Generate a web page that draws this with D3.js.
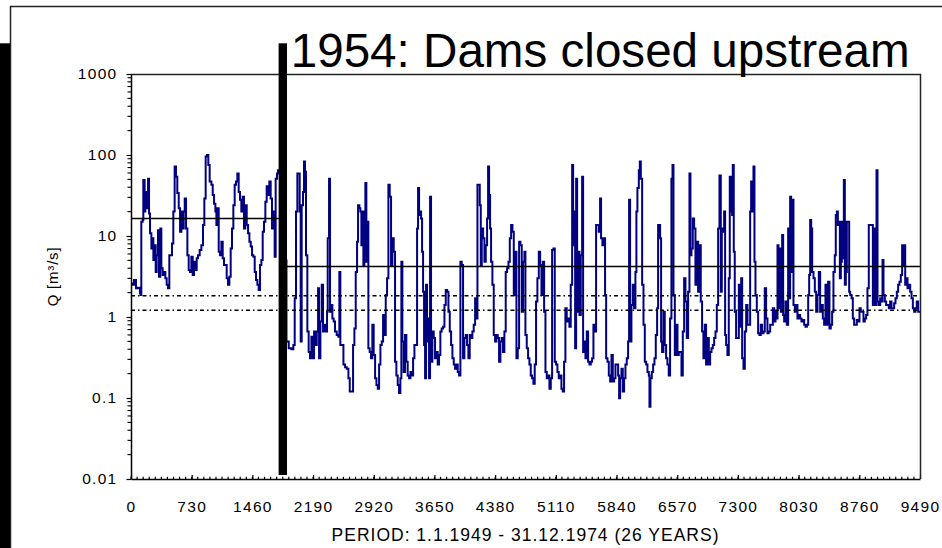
<!DOCTYPE html>
<html>
<head>
<meta charset="utf-8">
<script src="https://cdn.jsdelivr.net/npm/d3@7"></script>
<style>
  html, body { margin: 0; padding: 0; background: #fff; }
  svg { display: block; }
  text { font-family: "Liberation Sans", Arial, sans-serif; fill: #000; }
</style>
</head>
<body>
<svg id="chart" width="942" height="548"></svg>
<script>
// Daily discharge trace, [day since 1.1.1949, Q in m3/s]
const flowBefore1954 = [
  [0,2.6],[12,2.5],[36,2.86],[60,2.26],[84,2.3],[108,1.96],[116,1.87],[124,15],[140,15.8],[148,49],
  [164,20],[172,35],[189,22],[205,51],[217,19],[229,10.8],[245,7.0],[257,9.4],[269,5.05],[285,7.7],
  [297,3.6],[309,5.8],[325,11.8],[337,3.15],[353,12.4],[365,4.0],[381,3.3],[397,3.6],[413,3.0],[429,2.5],
  [445,2.26],[461,5.8],[477,5.8],[493,8.1],[509,20],[525,72],[541,54],[557,34],[574,22],[590,11.3],
  [606,20],[618,12.4],[634,20],[646,29],[662,12.4],[678,5.8],[694,3.8],[710,3.6],[726,5.55],[742,3.3],
  [758,4.8],[774,3.8],[790,5.3],[806,5.8],[826,6.7],[846,7.7],[866,13.7],[882,29],[898,96],[914,100],
  [930,75],[946,47],[967,43],[983,32],[999,25],[1015,20],[1027,13.7],[1039,22],[1055,6.4],[1071,5.8],
  [1087,8.5],[1103,5.3],[1119,4.4],[1135,4.4],[1151,3.0],[1167,2.5],[1183,3.15],[1199,7.0],[1215,12.4],[1231,24],
  [1247,43],[1263,47],[1279,59],[1295,35],[1311,28],[1327,20],[1343,30.5],[1359,12.4],[1375,24],[1392,13.7],
  [1408,10.8],[1424,8.5],[1440,7.4],[1456,5.8],[1472,5.55],[1488,3.6],[1504,2.86],[1520,2.5],[1536,2.15],[1552,4.4],
  [1568,5.05],[1584,11.3],[1600,15],[1616,26.5],[1632,41],[1648,32],[1664,47],[1680,29],[1696,12.4],[1712,20],
  [1728,5.55],[1740,51],[1756,59],[1769,65],[1800,5]
];

const flowAfter1954 = [
  [1870,0.50],[1897,0.41],[1929,0.40],[1953,0.45],[1969,1.70],[1985,20],[2001,59],[2017,59],[2029,20],[2041,0.50],
  [2053,24],[2069,35],[2081,83],[2093,62],[2105,5.8],[2121,0.66],[2137,0.37],[2153,0.31],[2170,0.57],[2186,0.31],
  [2202,0.66],[2218,0.45],[2234,0.66],[2250,2.26],[2262,0.31],[2278,0.88],[2294,2.5],[2310,0.66],[2326,0.80],[2342,0.66],
  [2358,1.16],[2366,9.4],[2382,51],[2394,1.16],[2406,1.41],[2422,0.96],[2438,0.88],[2454,0.66],[2474,0.60],[2494,0.57],
  [2506,3.6],[2518,0.45],[2534,0.45],[2555,0.26],[2575,0.24],[2595,0.23],[2615,0.175],[2631,0.12],[2655,0.12],[2671,0.45],
  [2687,0.72],[2703,3.6],[2719,8.5],[2731,24],[2747,22],[2759,20],[2771,7.7],[2783,20],[2795,4.4],[2807,12.4],
  [2819,45],[2831,4.8],[2843,15],[2855,0.41],[2871,0.37],[2887,0.31],[2903,0.80],[2919,0.34],[2936,0.175],[2952,0.145],
  [2968,0.13],[2984,0.26],[3000,0.45],[3016,0.50],[3032,1.06],[3048,0.60],[3064,1.87],[3080,3.0],[3096,43],[3112,30.5],
  [3128,4.4],[3144,9.4],[3160,6.4],[3176,0.28],[3192,0.19],[3208,0.145],[3224,0.115],[3240,0.175],[3252,4.8],[3264,0.50],
  [3280,0.21],[3296,0.60],[3312,0.28],[3328,0.19],[3345,0.175],[3361,0.21],[3377,0.19],[3393,0.31],[3409,0.45],[3425,0.45],
  [3441,12.4],[3453,39],[3465,18.2],[3477,20],[3489,16.5],[3501,6.4],[3513,2.05],[3525,0.45],[3537,0.175],[3549,2.5],
  [3561,0.96],[3573,0.50],[3585,0.175],[3597,30.5],[3609,0.28],[3625,0.66],[3641,0.55],[3657,0.31],[3673,0.37],[3689,0.26],
  [3705,0.34],[3721,0.66],[3737,0.72],[3754,0.76],[3770,1.41],[3786,2.15],[3802,2.05],[3818,1.16],[3834,0.66],[3850,0.45],
  [3866,0.31],[3882,0.26],[3898,0.23],[3914,0.26],[3930,0.21],[3946,0.19],[3962,4.8],[3978,4.4],[3994,0.31],[4010,0.55],
  [4026,0.60],[4042,0.45],[4058,0.31],[4074,0.60],[4090,0.55],[4106,0.66],[4122,0.80],[4139,1.70],[4155,0.96],[4167,43],
  [4183,43],[4195,24],[4207,4.4],[4219,12.4],[4235,9.4],[4251,4.8],[4267,7.7],[4283,16.5],[4295,72],[4307,32],
  [4319,12.4],[4331,4.8],[4347,2.5],[4363,0.60],[4379,0.50],[4395,0.60],[4411,0.55],[4427,0.28],[4443,0.50],[4459,0.55],
  [4475,0.37],[4491,0.66],[4507,3.6],[4523,4.0],[4540,4.8],[4556,9.4],[4572,13.7],[4588,11.3],[4604,1.87],[4620,6.4],
  [4636,0.31],[4652,0.41],[4668,8.5],[4684,7.7],[4700,1.16],[4716,4.8],[4732,6.4],[4744,0.60],[4760,0.41],[4776,0.31],
  [4792,0.26],[4808,0.19],[4824,0.175],[4840,0.15],[4856,0.26],[4872,1.55],[4888,3.0],[4905,6.4],[4921,4.4],[4937,1.87],
  [4953,4.8],[4969,1.16],[4985,0.21],[5001,0.175],[5017,0.19],[5033,0.13],[5049,0.175],[5065,6.7],[5081,7.0],[5097,0.28],
  [5113,0.26],[5129,0.21],[5145,0.175],[5161,0.19],[5177,0.13],[5193,0.12],[5209,0.28],[5225,1.28],[5241,0.88],[5257,0.96],
  [5273,0.76],[5289,2.5],[5306,75],[5318,7.7],[5330,20],[5342,0.41],[5354,51],[5366,1.16],[5378,6.4],[5394,1.06],
  [5410,5.8],[5426,54],[5438,0.37],[5450,0.50],[5466,0.31],[5482,0.66],[5498,0.28],[5514,0.26],[5530,0.28],[5546,0.31],
  [5562,0.80],[5578,0.66],[5594,13.7],[5610,13.7],[5626,11.3],[5642,29],[5654,9.4],[5670,7.7],[5686,9.4],[5702,1.87],
  [5715,0.31],[5731,0.28],[5747,0.19],[5763,0.16],[5779,0.34],[5795,0.16],[5811,0.175],[5827,0.26],[5843,0.26],[5859,0.19],
  [5871,0.099],[5883,0.175],[5899,0.23],[5915,0.12],[5931,0.175],[5947,0.26],[5963,0.31],[5979,0.50],[5991,28],[6003,0.50],
  [6019,1.41],[6035,2.5],[6051,1.28],[6067,3.6],[6079,20],[6091,39],[6108,65],[6120,83],[6132,51],[6148,2.5],
  [6164,0.80],[6180,0.28],[6196,0.26],[6212,0.21],[6228,0.19],[6236,0.078],[6248,0.175],[6264,0.21],[6280,0.26],[6296,0.31],
  [6312,0.60],[6328,1.28],[6340,13.7],[6352,13.7],[6364,9.4],[6376,0.50],[6388,0.37],[6404,1.16],[6420,0.45],[6436,0.31],
  [6452,0.26],[6468,0.19],[6484,0.96],[6500,51],[6513,75],[6525,1.87],[6541,0.34],[6557,0.80],[6573,0.34],[6589,0.37],
  [6605,0.37],[6621,0.19],[6637,0.66],[6653,3.0],[6669,1.55],[6685,0.55],[6701,2.05],[6717,59],[6729,5.8],[6741,7.0],
  [6757,16.5],[6773,12.4],[6789,2.5],[6805,8.5],[6821,2.05],[6837,7.7],[6853,1.55],[6869,0.66],[6885,0.31],[6901,0.80],
  [6917,0.26],[6934,0.55],[6950,0.26],[6966,0.37],[6982,0.41],[6998,0.45],[7014,0.55],[7030,0.66],[7046,1.41],[7062,12.4],
  [7078,56],[7094,2.05],[7106,12.4],[7118,11.3],[7134,20],[7146,0.60],[7158,0.45],[7174,0.34],[7190,3.0],[7202,54],
  [7214,20],[7230,18.2],[7238,75],[7250,6.4],[7262,1.16],[7278,0.55],[7295,0.55],[7311,2.5],[7327,0.76],[7339,3.0],
  [7351,0.31],[7367,0.23],[7383,0.66],[7399,1.41],[7415,0.80],[7431,0.80],[7447,20],[7459,47],[7471,20],[7487,72],
  [7499,4.8],[7511,1.87],[7527,1.16],[7543,0.63],[7559,0.60],[7575,0.80],[7591,0.63],[7607,0.66],[7623,2.26],[7639,0.96],
  [7655,0.63],[7671,0.66],[7688,0.80],[7704,0.80],[7720,1.28],[7736,0.88],[7752,1.16],[7768,0.96],[7776,7.7],[7788,1.28],
  [7800,7.0],[7816,1.16],[7832,10.3],[7844,1.06],[7856,0.88],[7872,1.55],[7888,0.80],[7904,12.4],[7916,1.70],[7928,30.5],
  [7940,3.6],[7952,28],[7968,1.41],[7984,1.16],[8000,1.41],[8016,0.96],[8032,1.06],[8048,0.96],[8064,0.88],[8080,0.92],
  [8097,0.80],[8113,0.76],[8129,0.80],[8145,1.87],[8157,3.3],[8169,15.8],[8181,12.4],[8193,3.6],[8209,3.0],[8225,2.05],
  [8241,1.16],[8257,1.87],[8273,3.6],[8289,1.16],[8305,1.41],[8321,0.96],[8337,0.80],[8353,2.5],[8369,0.80],[8385,2.73],
  [8401,0.72],[8417,0.80],[8433,1.16],[8449,3.6],[8465,5.8],[8477,18.2],[8490,20],[8502,13.7],[8514,15],[8526,3.0],
  [8538,4.8],[8550,15],[8562,5.3],[8574,49],[8586,2.5],[8598,3.6],[8610,15],[8626,15],[8638,2.05],[8650,1.87],
  [8666,1.70],[8682,0.96],[8698,0.80],[8714,0.80],[8730,0.92],[8746,0.88],[8762,1.28],[8778,1.16],[8794,1.16],[8810,0.88],
  [8826,0.96],[8842,1.06],[8858,2.26],[8874,13.7],[8891,13.7],[8907,13.7],[8923,1.41],[8939,12.4],[8955,1.41],[8967,65],
  [8979,1.55],[8995,1.41],[9011,1.70],[9027,1.55],[9039,5.05],[9051,1.87],[9067,1.55],[9083,1.41],[9099,1.41],[9115,1.28],
  [9131,1.55],[9147,1.28],[9163,1.28],[9179,1.48],[9195,1.70],[9211,2.05],[9227,2.5],[9243,2.73],[9259,3.3],[9275,7.7],
  [9287,4.4],[9299,7.7],[9312,2.5],[9324,3.0],[9340,2.26],[9356,2.5],[9372,2.05],[9388,1.70],[9404,1.28],[9420,1.16],
  [9436,1.28],[9451,1.55],[9468,1.16],[9484,1.16],[9490,1.16]
];

// Mean flows of both periods and two low-flow reference levels
const meanFlowBefore = 16.5;
const meanFlowAfter = 4.2;
const lowFlowLevels = [1.83, 1.21];
const damClosureDay = 1826;
const periodEnd = 9490;

const xTickValues = [0, 730, 1460, 2190, 2920, 3650, 4380, 5110, 5840, 6570, 7300, 8030, 8760, 9490];
const yTickValues = [0.01, 0.1, 1, 10, 100, 1000];
const yTickLabels = ["0.01", "0.1", "1", "10", "100", "1000"];

const titleText = "1954: Dams closed upstream";
const xTitleText = "PERIOD: 1.1.1949 - 31.12.1974 (26 YEARS)";

// ---- layout ----
const plot = { left: 131, right: 920, top: 74, bottom: 479 };
const svg = d3.select("#chart");

const x = d3.scaleLinear().domain([0, periodEnd]).range([plot.left, plot.right]);
const y = d3.scaleLog().domain([0.01, 1000]).range([plot.bottom, plot.top]);

// outer frame
svg.append("path")
  .attr("d", `M10.5,548 L10.5,6.5 L942,6.5`)
  .attr("fill", "none").attr("stroke", "#222").attr("stroke-width", 1.5);

svg.append("clipPath").attr("id", "plotClip")
  .append("rect")
  .attr("x", plot.left).attr("y", plot.top)
  .attr("width", plot.right - plot.left).attr("height", plot.bottom - plot.top);

const g = svg.append("g").attr("clip-path", "url(#plotClip)");

// discharge line
const series = flowBefore1954.concat(flowAfter1954);
const line = d3.line()
  .x(d => x(d[0]))
  .y(d => y(d[1]))
  .curve(d3.curveStepAfter);

g.append("path")
  .datum(series)
  .attr("d", line)
  .attr("fill", "none")
  .attr("stroke", "#000080")
  .attr("stroke-width", 2)
  .attr("stroke-linejoin", "miter");

// mean flow before and after the dam closure
[[0, damClosureDay, meanFlowBefore], [damClosureDay, periodEnd, meanFlowAfter]].forEach(([a, b, q]) => {
  g.append("line")
    .attr("x1", x(a)).attr("x2", x(b))
    .attr("y1", y(q)).attr("y2", y(q))
    .attr("stroke", "#000").attr("stroke-width", 1.5);
});

// low-flow levels, dash-dot
lowFlowLevels.forEach(q => {
  g.append("line")
    .attr("x1", x(0)).attr("x2", x(periodEnd))
    .attr("y1", y(q)).attr("y2", y(q))
    .attr("stroke", "#000").attr("stroke-width", 1.4)
    .attr("stroke-dasharray", "4,3,1.5,3");
});

// ---- axes ----
const tickFont = { size: "15.5px", spacing: "1.3px" };

const xAxis = d3.axisBottom(x)
  .tickValues(xTickValues)
  .tickFormat(d3.format("d"))
  .tickSizeInner(-4)
  .tickSizeOuter(0)
  .tickPadding(22);

const xg = svg.append("g").attr("transform", `translate(0,${plot.bottom})`).call(xAxis);
xg.select(".domain").attr("stroke", "#000").attr("stroke-width", 1.5);
xg.selectAll(".tick line").attr("stroke", "#000").attr("stroke-width", 1.2);
xg.selectAll(".tick text")
  .attr("fill", "#000")
  .style("font-family", "\"Liberation Sans\", Arial, sans-serif")
  .style("font-size", tickFont.size)
  .style("letter-spacing", tickFont.spacing);

// minor x ticks
svg.append("g").selectAll("line")
  .data(d3.range(0, periodEnd, periodEnd / 130))
  .join("line")
  .attr("x1", d => x(d)).attr("x2", d => x(d))
  .attr("y1", plot.bottom).attr("y2", plot.bottom - 2.2)
  .attr("stroke", "#000").attr("stroke-width", 1.2);

const yAxis = d3.axisLeft(y)
  .tickValues(yTickValues)
  .tickFormat((d, i) => yTickLabels[i])
  .tickSizeInner(4.5)
  .tickSizeOuter(0)
  .tickPadding(9);

const yg = svg.append("g").attr("transform", `translate(${plot.left},0)`).call(yAxis);
yg.select(".domain").attr("stroke", "#000").attr("stroke-width", 1.5);
yg.selectAll(".tick line").attr("stroke", "#000").attr("stroke-width", 1.2);
yg.selectAll(".tick text")
  .attr("fill", "#000")
  .style("font-family", "\"Liberation Sans\", Arial, sans-serif")
  .style("font-size", tickFont.size)
  .style("letter-spacing", tickFont.spacing);

// minor y ticks (2..9 in each decade)
const minorY = [];
for (let e = -2; e < 3; e++) for (let m = 2; m <= 9; m++) minorY.push(m * Math.pow(10, e));
svg.append("g").selectAll("line")
  .data(minorY)
  .join("line")
  .attr("x1", plot.left - 3.5).attr("x2", plot.left)
  .attr("y1", d => y(d)).attr("y2", d => y(d))
  .attr("stroke", "#000").attr("stroke-width", 1.1);

// top and right border of the plot area
svg.append("path")
  .attr("d", `M${plot.left},${plot.top + 0.5} L${plot.right + 0.5},${plot.top + 0.5} L${plot.right + 0.5},${plot.bottom}`)
  .attr("fill", "none").attr("stroke", "#222").attr("stroke-width", 1.5);

// axis titles
svg.append("text")
  .attr("x", (plot.left + plot.right) / 2)
  .attr("y", 541)
  .attr("text-anchor", "middle")
  .style("font-size", "17.5px")
  .style("letter-spacing", "1px")
  .text(xTitleText);

svg.append("text")
  .attr("transform", `translate(58,${(plot.top + plot.bottom) / 2}) rotate(-90)`)
  .attr("text-anchor", "middle")
  .style("font-size", "15px")
  .style("letter-spacing", "0.8px")
  .text("Q [m³/s]");

// dam closure marker
svg.append("rect")
  .attr("x", x(damClosureDay) - 4.2)
  .attr("y", 43.3)
  .attr("width", 8.4)
  .attr("height", 475 - 43.3)
  .attr("fill", "#000");

svg.append("text")
  .attr("x", 290.7)
  .attr("y", 66.5)
  .style("font-size", "47.6px")
  .text(titleText);

// left edge bar
svg.append("rect")
  .attr("x", 0).attr("y", 43.3)
  .attr("width", 10).attr("height", 548 - 43.3)
  .attr("fill", "#000");
</script>
</body>
</html>
